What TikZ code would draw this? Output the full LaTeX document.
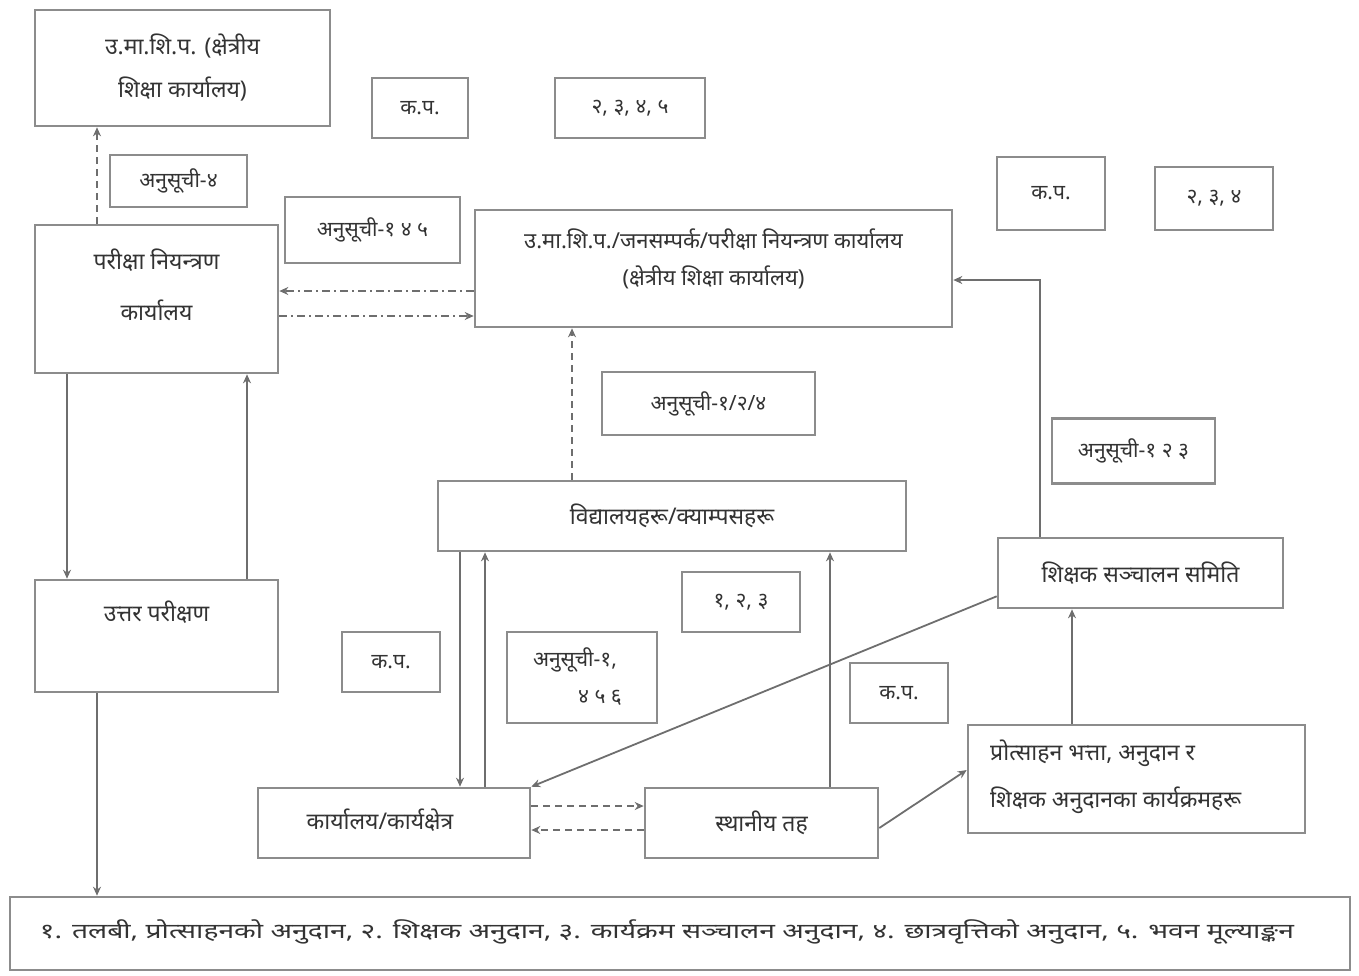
\documentclass[tikz,border=0pt]{standalone}
\usepackage{fontspec}
\setmainfont[Script=Devanagari]{Noto Sans}
\usetikzlibrary{arrows.meta,calc}
\definecolor{boxline}{HTML}{8C8C8C}
\definecolor{conline}{HTML}{6E6E6E}
\definecolor{txt}{HTML}{333333}
\tikzset{
  box/.style={draw=boxline, line width=2.6pt, fill=white, inner sep=0pt, align=center, text=txt, font=\fontsize{23}{40}\selectfont},
  smallbox/.style={box, font=\fontsize{21}{30}\selectfont},
  conn/.style={draw=conline, line width=1.8pt, -{Stealth[length=9pt,width=8pt]}},
  dashconn/.style={conn, dash pattern=on 7pt off 5pt},
  dotconn/.style={conn, dash pattern=on 8pt off 4pt on 2pt off 4pt},
  lbl/.style={text=txt, inner sep=0pt, font=\fontsize{23}{40}\selectfont}
}
\begin{document}
\begin{tikzpicture}[x=1pt,y=-1pt]
\useasboundingbox (0,0) rectangle (1359,975);
% main boxes
\node[box, minimum width=295pt, minimum height=116pt, font=\fontsize{23}{43}\selectfont] (A) at (182.5,68) {उ.मा.शि.प. (क्षेत्रीय\\शिक्षा कार्यालय)};
\node[box, minimum width=243pt, minimum height=148pt] (B) at (156.5,299) {};
\node[lbl] (Bt1) at (156.5,260) {परीक्षा नियन्त्रण};
\node[lbl] (Bt2) at (156.5,310) {कार्यालय};
\node[box, minimum width=477pt, minimum height=117pt, font=\fontsize{22}{37}\selectfont] (C) at (713.5,268.5) {};
\node[lbl, font=\fontsize{22}{37}\selectfont] (Ct1) at (713.5,240) {उ.मा.शि.प./जनसम्पर्क/परीक्षा नियन्त्रण कार्यालय};
\node[lbl, font=\fontsize{22}{37}\selectfont] (Ct2) at (713.5,277) {(क्षेत्रीय शिक्षा कार्यालय)};
\node[box, minimum width=468pt, minimum height=70pt] (D) at (672,516) {विद्यालयहरू/क्याम्पसहरू};
\node[box, minimum width=243pt, minimum height=112pt] (E) at (156.5,636) {};
\node[lbl] (Et) at (156.5,612) {उत्तर परीक्षण};
\node[box, minimum width=285pt, minimum height=70pt] (F) at (1140.5,573) {शिक्षक सञ्चालन समिति};
\node[box, minimum width=337pt, minimum height=108pt] (G) at (1136.5,779) {};
\node[lbl, anchor=west] (Gt1) at (990,753) {प्रोत्साहन भत्ता, अनुदान र};
\node[lbl, anchor=west] (Gt2) at (990,800) {शिक्षक अनुदानका कार्यक्रमहरू};
\node[box, minimum width=272pt, minimum height=70pt] (H) at (394,823) {};
\node[lbl] (Ht) at (380,820) {कार्यालय/कार्यक्षेत्र};
\node[box, minimum width=233pt, minimum height=70pt] (I) at (761.5,823) {स्थानीय तह};
\node[box, minimum width=1340pt, minimum height=73pt] (J) at (680,933.5) {};
\node[lbl, font=\fontsize{21}{30}\selectfont] (Jt) at (667,932) {\scalebox{1.345}[1]{१. तलबी, प्रोत्साहनको अनुदान, २. शिक्षक अनुदान, ३. कार्यक्रम सञ्चालन अनुदान, ४. छात्रवृत्तिको अनुदान, ५. भवन मूल्याङ्कन}};
% small label boxes
\node[smallbox, minimum width=96pt, minimum height=60pt] (k1) at (420,108) {क.प.};
\node[smallbox, minimum width=150pt, minimum height=60pt] (n1) at (630,108) {२, ३, ४, ५};
\node[smallbox, minimum width=137pt, minimum height=52pt] (s1) at (178.5,181) {अनुसूची-४};
\node[smallbox, minimum width=175pt, minimum height=66pt] (s2) at (372.5,230) {अनुसूची-१ ४ ५};
\node[smallbox, minimum width=108pt, minimum height=73pt] (k2) at (1051,193.5) {क.प.};
\node[smallbox, minimum width=118pt, minimum height=63pt] (n2) at (1214,198.5) {२, ३, ४};
\node[smallbox, minimum width=213pt, minimum height=63pt] (s3) at (708.5,403.5) {अनुसूची-१/२/४};
\node[smallbox, minimum width=163pt, minimum height=65pt] (s4) at (1133.5,451) {अनुसूची-१ २ ३};
\node[smallbox, minimum width=98pt, minimum height=60pt] (k3) at (391,662) {क.प.};
\node[smallbox, minimum width=150pt, minimum height=91pt] (s5) at (582,677.5) {};
\node[lbl, font=\fontsize{21}{30}\selectfont] (s5a) at (575,660) {अनुसूची-१,};
\node[lbl, font=\fontsize{21}{30}\selectfont] (s5b) at (600,698) {४ ५ ६};
\node[smallbox, minimum width=118pt, minimum height=60pt] (n3) at (741,602) {१, २, ३};
\node[smallbox, minimum width=98pt, minimum height=60pt] (k4) at (899,693) {क.प.};
% helper coordinates
\coordinate (x67) at (67,0);
\coordinate (x97) at (97,0);
\coordinate (x247) at (247,0);
\coordinate (x460) at (460,0);
\coordinate (x485) at (485,0);
\coordinate (x572) at (572,0);
\coordinate (x830) at (830,0);
\coordinate (x1040) at (1040,0);
\coordinate (x1072) at (1072,0);
\coordinate (y280) at (0,280);
\coordinate (y291) at (0,291);
\coordinate (y316) at (0,316);
\coordinate (y806) at (0,806);
\coordinate (y830) at (0,830);
% connectors
\draw[dashconn] (B.north -| x97) -- (A.south -| x97);
\draw[dotconn] (C.west |- y291) -- (B.east |- y291);
\draw[dotconn] (B.east |- y316) -- (C.west |- y316);
\draw[dashconn] (D.north -| x572) -- (C.south -| x572);
\draw[conn] (B.south -| x67) -- (E.north -| x67);
\draw[conn] (E.north -| x247) -- (B.south -| x247);
\draw[conn] (E.south -| x97) -- (J.north -| x97);
\draw[conn] (D.south -| x460) -- (H.north -| x460);
\draw[conn, line width=2.6pt] (H.north -| x485) -- (D.south -| x485);
\draw[conn] (I.north -| x830) -- (D.south -| x830);
\draw[conn] ([yshift=13pt]F.south west) -- (H.north east);
\draw[conn] (F.north -| x1040) |- (C.east |- y280);
\draw[conn] (G.north -| x1072) -- (F.south -| x1072);
\draw[conn] ([yshift=-5pt]I.east) -- ([yshift=9pt]G.west);
\draw[dashconn] (H.east |- y806) -- (I.west |- y806);
\draw[dashconn] (I.west |- y830) -- (H.east |- y830);
\end{tikzpicture}
\end{document}
